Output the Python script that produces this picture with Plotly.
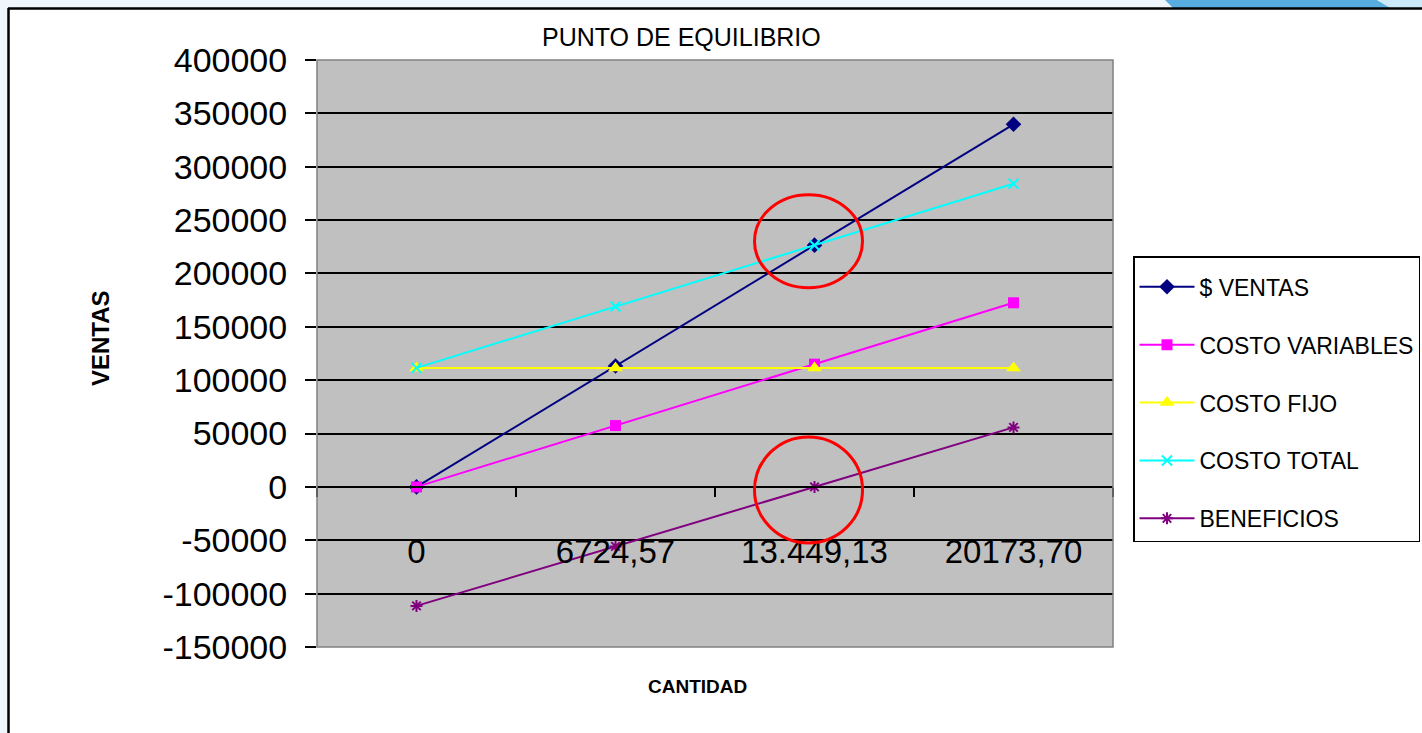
import plotly.graph_objects as go

# ---------------- data ----------------
cantidad = ["0", "6724,57", "13.449,13", "20173,70"]
ventas = [0, 113250, 226500, 339750]
costo_variables = [0, 57500, 115000, 172500]
costo_fijo = [111500, 111500, 111500, 111500]
costo_total = [111500, 169000, 226500, 284000]
beneficios = [-111500, -55750, 0, 55750]
y_ticks = [-150000, -100000, -50000, 0, 50000, 100000, 150000, 200000, 250000, 300000, 350000, 400000]
break_even_index = 2

# ---------------- layout geometry ----------------
W, H = 1422, 733
L, R, T, B = 317, 1113, 60, 647
ymin, ymax = y_ticks[0], y_ticks[-1]


def px(x):
    return (x - L) / (R - L)


def py(y):
    return (B - y) / (B - T)


FONT = "Liberation Sans, Arial, sans-serif"

fig = go.Figure()

series = [
    ("$ VENTAS", ventas, "#000080", dict(symbol="diamond", size=12, color="#000080")),
    ("COSTO VARIABLES", costo_variables, "#FF00FF", dict(symbol="square", size=11, color="#FF00FF")),
    ("COSTO FIJO", costo_fijo, "#FFFF00", dict(symbol="triangle-up", size=13, color="#FFFF00")),
    ("COSTO TOTAL", costo_total, "#00FFFF", dict(symbol="x-thin", size=10, color="#00FFFF",
                                                 line=dict(color="#00FFFF", width=2))),
    ("BENEFICIOS", beneficios, "#800080", dict(symbol="asterisk", size=10, color="#800080",
                                               line=dict(color="#800080", width=2))),
]
for i, (name, vals, col, mk) in enumerate(series):
    fig.add_trace(go.Scatter(
        x=cantidad, y=vals, name=name, mode="lines+markers",
        line=dict(color=col, width=2), marker=mk, legendgroup=f"g{i}",
    ))

shapes = []
# pale background strips outside the frame
shapes.append(dict(type="rect", xref="paper", yref="paper", x0=px(0), x1=px(W), y0=py(0), y1=py(8),
                   fillcolor="#eef6fc", line=dict(width=0), layer="below"))
shapes.append(dict(type="rect", xref="paper", yref="paper", x0=px(0), x1=px(8), y0=py(0), y1=py(H),
                   fillcolor="#eef6fc", line=dict(width=0), layer="below"))
# top-right decoration
shapes.append(dict(type="rect", xref="paper", yref="paper", x0=px(1380), x1=px(W), y0=py(0), y1=py(8),
                   fillcolor="#cce9fa", line=dict(width=0), layer="below"))
shapes.append(dict(type="path", xref="paper", yref="paper",
                   path=f"M {px(1165)} {py(0)} L {px(1377)} {py(0)} L {px(1390)} {py(8)} L {px(1173)} {py(8)} Z",
                   fillcolor="#57ade0", line=dict(width=0), layer="below"))
# frame lines
shapes.append(dict(type="line", xref="paper", yref="paper", x0=px(8), x1=px(W), y0=py(8.5), y1=py(8.5),
                   line=dict(color="black", width=2.5)))
shapes.append(dict(type="line", xref="paper", yref="paper", x0=px(8.5), x1=px(8.5), y0=py(8), y1=py(H),
                   line=dict(color="black", width=2.5)))
# plot area border
shapes.append(dict(type="rect", xref="paper", yref="paper", x0=0, x1=1, y0=0, y1=1,
                   line=dict(color="#808080", width=1.5)))
# red circles around break-even point
shapes.append(dict(type="circle", xref="x", yref="y", xsizemode="pixel", ysizemode="pixel",
                   xanchor=cantidad[break_even_index], yanchor=ventas[break_even_index],
                   x0=-60, x1=48, y0=-42.5, y1=50.5, line=dict(color="#FF0000", width=3)))
shapes.append(dict(type="circle", xref="x", yref="y", xsizemode="pixel", ysizemode="pixel",
                   xanchor=cantidad[break_even_index], yanchor=beneficios[break_even_index],
                   x0=-60, x1=48, y0=-56, y1=50, line=dict(color="#FF0000", width=3)))

annotations = [
    dict(text="PUNTO DE EQUILIBRIO", xref="paper", yref="paper", x=px(681), y=py(37),
         showarrow=False, font=dict(family=FONT, size=25, color="black"), xanchor="center", yanchor="middle"),
    dict(text="<b>CANTIDAD</b>", xref="paper", yref="paper", x=px(697), y=py(686),
         showarrow=False, font=dict(family=FONT, size=19, color="black"), xanchor="center", yanchor="middle"),
    dict(text="<b>VENTAS</b>", xref="paper", yref="paper", x=px(100), y=py(338), textangle=-90,
         showarrow=False, font=dict(family=FONT, size=24, color="black"), xanchor="center", yanchor="middle"),
]

fig.update_layout(
    width=W, height=H,
    margin=dict(l=L, r=W - R, t=T, b=H - B, pad=0, autoexpand=False),
    paper_bgcolor="white", plot_bgcolor="#C0C0C0",
    font=dict(family=FONT, color="black"),
    showlegend=True,
    legend=dict(x=px(1133), y=py(256), xanchor="left", yanchor="top",
                bgcolor="white", bordercolor="black", borderwidth=1.5,
                font=dict(family=FONT, size=23, color="black"),
                title=dict(text="&nbsp;", font=dict(family=FONT, size=6)),
                tracegroupgap=25, itemwidth=55),
    shapes=shapes, annotations=annotations,
    xaxis=dict(type="category", range=[-0.5, len(cantidad) - 0.5], anchor="free",
               position=(0 - ymin) / (ymax - ymin),
               showline=True, linecolor="black", linewidth=1.5,
               ticks="outside", tickson="boundaries", ticklen=9, tickcolor="black", tickwidth=1.5,
               showgrid=False, ticklabelstandoff=36,
               tickfont=dict(family=FONT, size=33, color="black")),
    yaxis=dict(range=[ymin, ymax], tickvals=y_ticks, ticktext=[str(v) for v in y_ticks],
               showline=False, showgrid=True, gridcolor="black", gridwidth=1.5,
               zeroline=True, zerolinecolor="black", zerolinewidth=1.5,
               ticks="outside", ticklen=11, tickcolor="black", tickwidth=1.5,
               ticklabelstandoff=11,
               tickfont=dict(family=FONT, size=34, color="black")),
)

fig.write_html("out.html", config={"displayModeBar": False},
               post_script="document.body.style.margin='0';document.body.style.overflow='hidden';")
